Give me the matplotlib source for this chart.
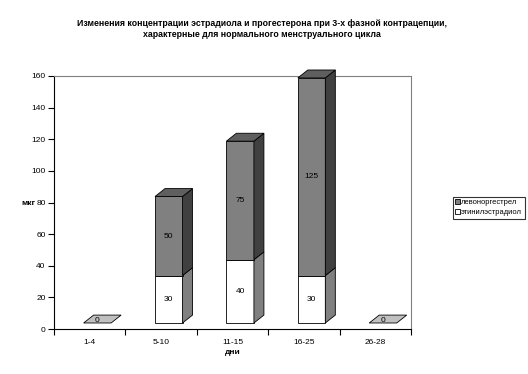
import matplotlib
matplotlib.use("Agg")
import matplotlib.pyplot as plt
from matplotlib.patches import Polygon, Patch

plt.rcParams["font.family"] = ["Liberation Sans", "DejaVu Sans"]

title = ("Изменения концентрации эстрадиола и прогестерона при 3-х фазной контрацепции,\n"
         "характерные для нормального менструального цикла")
days = ["1-4", "5-10", "11-15", "16-25", "26-28"]
estradiol = [0, 30, 40, 30, 0]
levonorgestrel = [0, 50, 75, 125, 0]
series_names = ["левоноргестрел", "этинилэстрадиол"]

fig = plt.figure(figsize=(5.28, 3.74), dpi=100)
ax = fig.add_axes([54 / 528, 1 - 329 / 374, (411 - 54) / 528, (329 - 76) / 374])
ax.set_xlim(0, len(days))
ax.set_ylim(0, 160)

# fake 3D geometry in data units
x0, x1 = 0.415, 0.80      # front face within a category slot
dx, dy = 0.14, 5.0        # depth offset
base = 3.8


def poly(ax, pts, fc):
    ax.add_patch(Polygon(pts, closed=True, facecolor=fc, edgecolor="black", lw=0.6,
                         zorder=3, clip_on=False))


def box(ax, left, right, bottom, top, front, top_col, side_col, draw_top=True):
    poly(ax, [(left, bottom), (right, bottom), (right, top), (left, top)], front)
    poly(ax, [(right, bottom), (right + dx, bottom + dy), (right + dx, top + dy), (right, top)], side_col)
    if draw_top:
        poly(ax, [(left, top), (right, top), (right + dx, top + dy), (left + dx, top + dy)], top_col)


for i, (e, l) in enumerate(zip(estradiol, levonorgestrel)):
    left, right = i + x0, i + x1
    cx = (left + right) / 2
    if e + l == 0:
        poly(ax, [(left, base), (right, base), (right + dx, base + dy), (left + dx, base + dy)], "#c0c0c0")
        ax.text(cx, base + 1.5, "0", fontsize=6, ha="center", va="center", zorder=4)
        continue
    box(ax, left, right, base, base + e, "white", "#808080", "#808080", draw_top=False)
    box(ax, left, right, base + e, base + e + l, "#808080", "#5f5f5f", "#404040")
    ax.text(cx, base + e / 2, str(e), fontsize=6, ha="center", va="center", zorder=4)
    ax.text(cx, base + e + l / 2, str(l), fontsize=6, ha="center", va="center", zorder=4)

ax.set_yticks(range(0, 161, 20))
ax.set_xticks(range(0, len(days) + 1))
ax.set_xticklabels([])
ax.set_xticks([i + 0.5 for i in range(len(days))], minor=True)
ax.set_xticklabels(days, minor=True)
ax.tick_params(axis="x", which="minor", length=0, labelsize=6, pad=7)
ax.tick_params(axis="x", which="major", length=4, direction="out", width=0.8)
ax.tick_params(axis="y", length=4, direction="out", width=0.8, labelsize=6, pad=2)
ax.spines["top"].set_color("#808080")
ax.spines["right"].set_color("#808080")
for s in ("top", "right", "left", "bottom"):
    ax.spines[s].set_linewidth(0.8)

ax.set_xlabel("дни", fontsize=6, fontweight="bold", labelpad=2)
fig.text(28 / 528, 1 - 204 / 374, "мкг", fontsize=6, fontweight="bold", ha="center", va="center")
fig.text(262 / 528, 1 - 29 / 374, title, fontsize=6.3, fontweight="bold", ha="center", va="center",
         linespacing=1.35)

handles = [Patch(facecolor="#808080", edgecolor="black", lw=0.6),
           Patch(facecolor="white", edgecolor="black", lw=0.6)]
leg = fig.legend(handles, series_names, loc="upper left", bbox_to_anchor=(453 / 528, 1 - 197 / 374),
                 fontsize=5.4, frameon=True, fancybox=False, handlelength=0.6, handleheight=0.6,
                 handletextpad=0.2, borderpad=0.3, labelspacing=0.4, borderaxespad=0)
leg.get_frame().set_edgecolor("black")
leg.get_frame().set_linewidth(0.8)

fig.savefig("out.png", dpi=100)
